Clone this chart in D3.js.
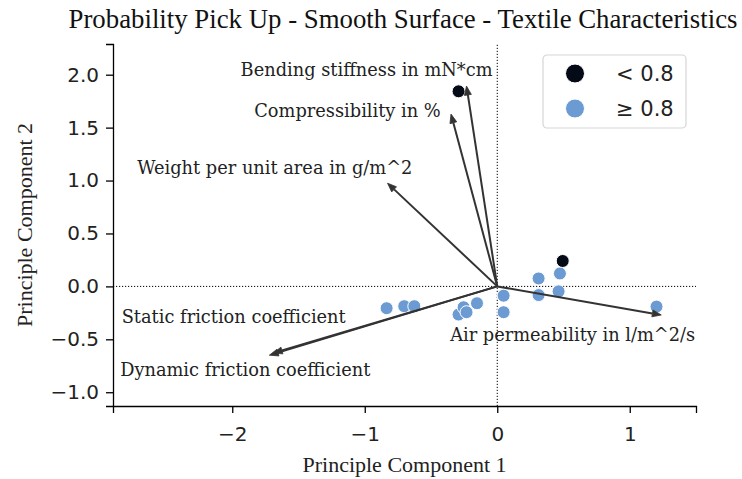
<!DOCTYPE html>
<html>
<head>
<meta charset="utf-8">
<script src="https://cdn.jsdelivr.net/npm/d3@7"></script>
<style>
  body { margin: 0; background: #fff; }
  svg { display: block; }
</style>
</head>
<body>
<div id="plot"></div>
<script>
// Chart size
var w = 742;
var h = 479;
var margin = { top: 44, right: 46, bottom: 73, left: 113 };

// Scores (PC1, PC2) and class of each sample
var pc1 = [-0.835, -0.702, -0.626, -0.292, -0.254, -0.232, -0.153, 0.048, 0.048,
           0.312, 0.312, 0.473, 0.463, 1.202, 0.494, -0.292];
var pc2 = [-0.206, -0.187, -0.187, -0.266, -0.197, -0.244, -0.159, -0.088, -0.244,
           0.075, -0.082, 0.122, -0.047, -0.191, 0.240, 1.843];
var group = ["hi", "hi", "hi", "hi", "hi", "hi", "hi", "hi", "hi",
             "hi", "hi", "hi", "hi", "hi", "lo", "lo"];

// Loadings (arrows) and where their labels sit, in data units
var features = ["Bending stiffness in mN*cm", "Compressibility in %",
                "Weight per unit area in g/m^2", "Static friction coefficient",
                "Dynamic friction coefficient", "Air permeability in l/m^2/s"];
var loadX = [-0.232, -0.349, -0.828, -1.69, -1.72, 1.238];
var loadY = [1.893, 1.628, 0.975, -0.63, -0.65, -0.27];
var labelX = [-0.986, -1.13, -1.679, -1.989, -1.902, 0.569];
var labelY = [2.046, 1.662, 1.118, -0.288, -0.784, -0.456];

// Axis ticks and legend entries
var xTicks = [-2, -1, 0, 1];
var yTicks = [-1.0, -0.5, 0.0, 0.5, 1.0, 1.5, 2.0];
var legendKeys = ["lo", "hi"];
var legendLabels = ["< 0.8", "\u2265 0.8"];

var color = d3.scaleOrdinal().domain(["lo", "hi"]).range(["#050a17", "#6b9bd2"]);

var xScale = d3.scaleLinear().domain([-2.9, 1.5]).range([margin.left, w - margin.right]);
var yScale = d3.scaleLinear().domain([-1.13, 2.29]).range([h - margin.bottom, margin.top]);

var svg = d3.select("#plot").append("svg").attr("width", w).attr("height", h);

// Zero lines
svg.append("line")
   .attr("x1", xScale(-2.9)).attr("x2", xScale(1.5))
   .attr("y1", yScale(0)).attr("y2", yScale(0))
   .attr("stroke", "#000").attr("stroke-width", 1).attr("stroke-dasharray", "1.2,1.8");
svg.append("line")
   .attr("x1", xScale(0)).attr("x2", xScale(0))
   .attr("y1", yScale(-1.13)).attr("y2", yScale(2.29))
   .attr("stroke", "#000").attr("stroke-width", 1).attr("stroke-dasharray", "1.2,1.8");

// Points
svg.selectAll("circle.pt")
   .data(pc1)
   .enter()
   .append("circle")
   .attr("class", "pt")
   .attr("cx", function(d) { return xScale(d); })
   .attr("cy", function(d, i) { return yScale(pc2[i]); })
   .attr("r", 6.5)
   .attr("fill", function(d, i) { return color(group[i]); })
   .attr("stroke", "#fff")
   .attr("stroke-width", 1);

// Arrows
var arrows = svg.append("g").attr("fill", "#333").attr("stroke", "#333");
features.forEach(function(f, i) {
  var x0 = xScale(0), y0 = yScale(0);
  var x1 = xScale(loadX[i]), y1 = yScale(loadY[i]);
  var a = Math.atan2(y1 - y0, x1 - x0);
  var hl = 9, hw = 3.5;
  var bx = x1 - hl * Math.cos(a), by = y1 - hl * Math.sin(a);
  arrows.append("line")
        .attr("x1", x0).attr("y1", y0).attr("x2", bx).attr("y2", by)
        .attr("stroke-width", 2);
  arrows.append("path")
        .attr("stroke-width", 0.8)
        .attr("d", "M" + x1 + "," + y1 +
                   "L" + (bx + hw * Math.sin(a)) + "," + (by - hw * Math.cos(a)) +
                   "L" + (bx - hw * Math.sin(a)) + "," + (by + hw * Math.cos(a)) + "Z");
});

// Arrow labels
svg.selectAll("text.feat")
   .data(features)
   .enter()
   .append("text")
   .attr("class", "feat")
   .text(function(d) { return d; })
   .attr("x", function(d, i) { return xScale(labelX[i]); })
   .attr("y", function(d, i) { return yScale(labelY[i]); })
   .attr("dy", "0.35em")
   .attr("text-anchor", "middle")
   .attr("font-family", "DejaVu Serif")
   .attr("font-size", "17.8px")
   .attr("fill", "#222");

// Axes
var xAxis = d3.axisBottom(xScale).tickValues(xTicks).tickFormat(d3.format("d"))
              .tickSizeOuter(0).tickSize(7).tickPadding(14);
var yAxis = d3.axisLeft(yScale).tickValues(yTicks).tickFormat(d3.format(".1f"))
              .tickSizeOuter(0).tickSize(7).tickPadding(7);

var gx = svg.append("g")
   .attr("transform", "translate(0," + (h - margin.bottom) + ")")
   .call(xAxis);
var gy = svg.append("g")
   .attr("transform", "translate(" + margin.left + ",0)")
   .call(yAxis);
[gx, gy].forEach(function(g) {
  g.selectAll("path, line").attr("stroke", "#000").attr("stroke-width", 1.3);
  g.selectAll("text").attr("font-family", "DejaVu Sans").attr("font-size", "20px").attr("fill", "#222");
});

// Axis titles and chart title
svg.append("text")
   .attr("x", (margin.left + w - margin.right) / 2)
   .attr("y", 472)
   .attr("text-anchor", "middle")
   .attr("font-family", "Liberation Serif")
   .attr("font-size", "22px")
   .attr("fill", "#222")
   .text("Principle Component 1");
svg.append("text")
   .attr("transform", "translate(32," + (margin.top + h - margin.bottom) / 2 + ") rotate(-90)")
   .attr("text-anchor", "middle")
   .attr("font-family", "Liberation Serif")
   .attr("font-size", "22px")
   .attr("fill", "#222")
   .text("Principle Component 2");
svg.append("text")
   .attr("x", 403)
   .attr("y", 28)
   .attr("text-anchor", "middle")
   .attr("font-family", "Liberation Serif")
   .attr("font-size", "26.8px")
   .attr("fill", "#111")
   .text("Probability Pick Up - Smooth Surface - Textile Characteristics");

// Legend
var legend = svg.append("g").attr("transform", "translate(543,55)");
legend.append("rect")
      .attr("width", 143).attr("height", 73).attr("rx", 4)
      .attr("fill", "#fff").attr("fill-opacity", 0.8)
      .attr("stroke", "#d6d6d6").attr("stroke-width", 1.2);
legendKeys.forEach(function(k, i) {
  legend.append("circle")
        .attr("cx", 32).attr("cy", 18.5 + i * 35).attr("r", 9.5)
        .attr("fill", color(k)).attr("stroke", "#fff").attr("stroke-width", 1);
  legend.append("text")
        .attr("x", 73).attr("y", 18.5 + i * 35).attr("dy", "0.35em")
        .attr("font-family", "DejaVu Sans").attr("font-size", "21px").attr("fill", "#222")
        .text(legendLabels[i]);
});
</script>
</body>
</html>
